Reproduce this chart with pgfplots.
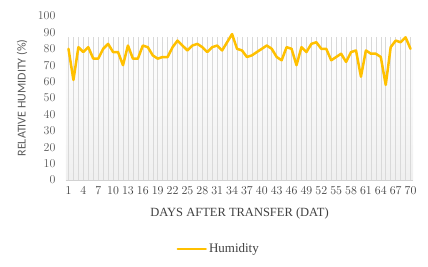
\documentclass[border=0pt]{standalone}
\usepackage{pgfplots}
\pgfplotsset{compat=1.18}
\usepackage{fontspec}
\setmainfont{Liberation Serif}
\newfontfamily\calfont{Carlito}
\definecolor{hum}{HTML}{FFC000}
\definecolor{tickgray}{HTML}{595959}
\definecolor{dark}{HTML}{404040}
\pgfplotstableread{
day hum
1 80
2 61
3 81
4 78
5 81
6 74
7 74
8 80
9 83
10 78
11 78
12 70
13 82
14 74
15 74
16 82
17 81
18 76
19 74
20 75
21 75
22 81
23 85
24 82
25 79
26 82
27 83
28 81
29 78
30 81
31 82
32 79
33 84
34 89
35 80
36 79
37 75
38 76
39 78
40 80
41 82
42 80
43 75
44 73
45 81
46 80
47 70
48 81
49 78
50 83
51 84
52 80
53 80
54 73
55 75
56 77
57 72
58 78
59 79
60 63
61 79
62 77
63 77
64 75
65 58
66 81
67 85
68 84
69 87
70 80
}\humdata
\begin{document}
\begin{tikzpicture}
\useasboundingbox (-66pt,-86pt) rectangle (362pt,180pt);
\begin{axis}[
  scale only axis, width=347pt, height=164pt,
  anchor=south west, at={(0pt,0pt)},
  xmin=0.5, xmax=70.5, ymin=0, ymax=100,
  axis line style={draw=none},
  major tick style={draw=none},
  minor tick style={draw=none},
  ytick={0,10,...,100},
  xtick={1,4,...,70},
  yticklabel style={font=\calfont\fontsize{11.5}{12}\selectfont, text=tickgray, xshift=-7pt},
  xticklabel style={font=\fontsize{12.5}{13}\selectfont, text=dark, yshift=-3pt},
  xlabel={DAYS AFTER TRANSFER (DAT)},
  ylabel={RELATIVE HUMIDITY (\%)},
  xlabel style={at={(axis description cs:0.5,0)}, anchor=center, yshift=-33pt, font=\fontsize{12.5}{13}\selectfont, text=dark},
  ylabel style={at={(axis description cs:0,0.5)}, anchor=center, yshift=44pt, font=\calfont\fontsize{12}{13}\selectfont, text=tickgray},
  legend style={at={(axis description cs:0.44,0)}, anchor=center, yshift=-69pt, draw=none, fill=none, font=\fontsize{13}{14}\selectfont, text=dark},
  legend cell align=left,
  legend image code/.code={\draw[#1] (0pt,0pt) -- (28pt,0pt);},
  clip=false,
]
\fill[top color=white, bottom color=gray!12] (axis cs:0.5,0) rectangle (axis cs:70.5,87.5);
\pgfplotsinvokeforeach{1,...,70}{\draw[gray!30, line width=0.5pt] (axis cs:#1,0) -- (axis cs:#1,87.5);}
\draw[gray!35, line width=0.8pt] (axis cs:0.5,0) -- (axis cs:70.5,0);
\addplot[hum, line width=2.5pt, line join=round, line cap=round] table[x=day, y=hum] {\humdata};
\addlegendentry{Humidity}
\end{axis}
\end{tikzpicture}
\end{document}
